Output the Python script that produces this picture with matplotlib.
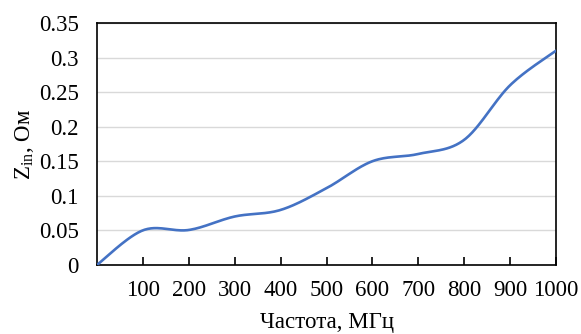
import matplotlib
matplotlib.use('Agg')
import matplotlib.pyplot as plt
import numpy as np

plt.rcParams['font.family'] = ['Liberation Serif', 'DejaVu Serif']
plt.rcParams['mathtext.fontset'] = 'custom'
plt.rcParams['mathtext.rm'] = 'Liberation Serif'

# data
freq = [0, 100, 200, 300, 400, 500, 600, 700, 800, 900, 1000]
zin = [0.0, 0.050, 0.0505, 0.070, 0.0795, 0.111, 0.150, 0.1605, 0.181, 0.260, 0.310]

x_ticks = [100, 200, 300, 400, 500, 600, 700, 800, 900, 1000]
y_ticks = [0, 0.05, 0.1, 0.15, 0.2, 0.25, 0.3, 0.35]
y_labels = ['0', '0.05', '0.1', '0.15', '0.2', '0.25', '0.3', '0.35']


def smooth(xs, ys, n=30):
    # excel-like smoothed line (catmull-rom through the points)
    xs = np.asarray(xs, float)
    ys = np.asarray(ys, float)
    px = np.concatenate([[xs[0]], xs, [xs[-1]]])
    py = np.concatenate([[ys[0]], ys, [ys[-1]]])
    ox, oy = [], []
    t = np.linspace(0, 1, n)
    for i in range(1, len(px) - 2):
        for p, out in ((px, ox), (py, oy)):
            p0, p1, p2, p3 = p[i - 1], p[i], p[i + 1], p[i + 2]
            c1 = p1 + (p2 - p0) / 6
            c2 = p2 - (p3 - p1) / 6
            out.extend((1 - t) ** 3 * p1 + 3 * (1 - t) ** 2 * t * c1
                       + 3 * (1 - t) * t ** 2 * c2 + t ** 3 * p2)
    return ox, oy


fig = plt.figure(figsize=(5.81, 3.34), dpi=100)
ax = fig.add_axes([0.167, 0.207, 0.79, 0.724])

sx, sy = smooth(freq, zin)
ax.plot(sx, sy, color='#4472C4', lw=1.9, solid_capstyle='round', zorder=3)

ax.set_xlim(0, 1000)
ax.set_ylim(0, 0.35)
ax.set_xticks(x_ticks)
ax.set_xticklabels([str(v) for v in x_ticks])
ax.set_yticks(y_ticks)
ax.set_yticklabels(y_labels)

ax.grid(axis='y', color='#d9d9d9', lw=1.0)
ax.set_axisbelow(True)
for s in ax.spines.values():
    s.set_linewidth(1.2)
    s.set_color('black')

ax.tick_params(axis='x', direction='in', length=6, width=1.2, pad=11, labelsize=16.5)
ax.tick_params(axis='y', length=0, pad=13, labelsize=16.5)

ax.set_xlabel('Частота, МГц', fontsize=16.5, labelpad=8)
ax.set_ylabel(r'Z$_\mathregular{in}$, Ом', fontsize=16.5, labelpad=2)

fig.savefig('out.png', dpi=100)
